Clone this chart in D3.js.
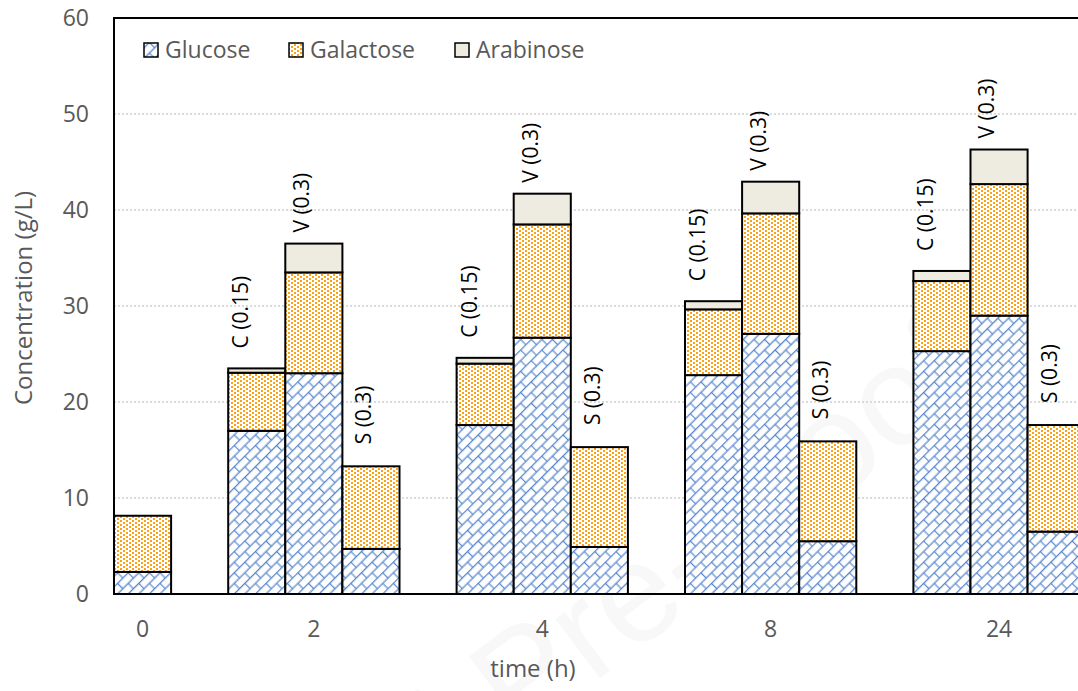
<!DOCTYPE html>
<html><head><meta charset="utf-8">
<script src="https://cdn.jsdelivr.net/npm/d3@7"></script>
<style>body{margin:0;background:#fff}</style></head>
<body><svg id="c" width="1078" height="691"></svg>
<script>
// ---- data ----
const timeLabels = ["0","2","4","8","24"];
const treatmentLabels = ["C (0.15)","V (0.3)","S (0.3)"];
const barTime = ["0","2","2","2","4","4","4","8","8","8","24","24","24"];
const barTreatment = [null,0,1,2,0,1,2,0,1,2,0,1,2];
const glucose   = [2.3,17.0,23.0,4.7,17.6,26.7,4.9,22.8,27.1,5.5,25.3,29.0,6.5];
const galactose = [5.85,6.05,10.5,8.6,6.4,11.8,10.4,6.85,12.55,10.4,7.3,13.7,11.1];
const arabinose = [0,0.45,3.0,0,0.6,3.2,0,0.85,3.3,0,1.05,3.6,0];
const yTicks = [0,10,20,30,40,50,60];
const seriesNames = ["Glucose","Galactose","Arabinose"];

// ---- layout ----
const svg = d3.select("#c");
const plotLeft = 114, plotTop = 18, plotBottom = 594, slotW = 57.1;
const grey = "#595959";
const font = "'Open Sans', sans-serif";

const slots = [];
timeLabels.forEach((t,i)=>{
  if(i===0){ slots.push(t+"|0"); }
  else { slots.push("gap"+i); [0,1,2].forEach(k=>slots.push(t+"|"+k)); }
});
const x = d3.scaleBand().domain(slots).range([plotLeft, plotLeft + slots.length*slotW]).padding(0);
const y = d3.scaleLinear().domain([0,60]).range([plotBottom, plotTop]);

// ---- patterns ----
const defs = svg.append("defs");
const pg = defs.append("pattern").attr("id","pGlu").attr("patternUnits","userSpaceOnUse")
  .attr("width",15).attr("height",15).attr("patternTransform","rotate(-45)");
pg.append("rect").attr("width",15).attr("height",15).attr("fill","#fff");
pg.append("path").attr("d","M0,0.6H15M0,8.1H15M0.6,0.6V8.1M8.1,8.1V15.6")
  .attr("stroke","#5585cc").attr("stroke-width",1.15).attr("fill","none");
const po = defs.append("pattern").attr("id","pGal").attr("patternUnits","userSpaceOnUse")
  .attr("width",6).attr("height",4);
po.append("rect").attr("width",6).attr("height",4).attr("fill","#fff");
po.append("rect").attr("x",0).attr("y",0).attr("width",2).attr("height",2).attr("fill","#ffa010");
po.append("rect").attr("x",3).attr("y",2).attr("width",2).attr("height",2).attr("fill","#ffa010");
const fills = ["url(#pGlu)","url(#pGal)","#eeece1"];

// ---- watermark (faint, behind) ----
svg.append("text").attr("transform","translate(120,1040) rotate(-37)")
  .attr("font-family","'Liberation Sans', sans-serif").attr("font-size",140)
  .attr("fill","#c8c8c8").attr("opacity",0.12).text("Journal Pre-proof");

// ---- gridlines ----
svg.append("g").selectAll("line").data(yTicks.filter(v=>v>0 && v<60)).join("line")
  .attr("x1",plotLeft).attr("x2",1078).attr("y1",d=>y(d)).attr("y2",d=>y(d))
  .attr("stroke","#d0d0d0").attr("stroke-width",1.5).attr("stroke-dasharray","2,2");

// ---- y axis ----
const yAxis = d3.axisLeft(y).tickValues(yTicks).tickSize(0).tickPadding(25);
const yg = svg.append("g").attr("transform",`translate(${plotLeft},0)`).call(yAxis);
yg.select(".domain").remove();
yg.selectAll("text").attr("fill",grey).attr("font-size",23).attr("font-family",font);

// ---- x axis ----
const tickSlot = t => t==="0" ? t+"|0" : t+"|1";
const xAxis = d3.axisBottom(x).tickValues(timeLabels.map(tickSlot))
  .tickFormat(s=>s.split("|")[0]).tickSize(0).tickPadding(27);
const xg = svg.append("g").attr("transform",`translate(0,${plotBottom})`).call(xAxis);
xg.select(".domain").remove();
xg.selectAll("text").attr("fill",grey).attr("font-size",23).attr("font-family",font);

// ---- bars ----
const bars = barTime.map((t,i)=>{
  const key = t+"|"+(barTreatment[i]===null?0:barTreatment[i]);
  const vals = [glucose[i],galactose[i],arabinose[i]];
  let acc = 0;
  const segs = vals.map((v,s)=>{ const y0=acc; acc+=v; return {s, y0, y1:acc, v}; }).filter(d=>d.v>0);
  return {key, segs, total:acc, tr:barTreatment[i]};
});
const bg = svg.append("g");
bars.forEach(b=>{
  bg.append("g").selectAll("rect").data(b.segs).join("rect")
    .attr("x",x(b.key)).attr("width",x.bandwidth())
    .attr("y",d=>y(d.y1)).attr("height",d=>y(d.y0)-y(d.y1))
    .attr("fill",d=>fills[d.s]).attr("stroke","#000").attr("stroke-width",2);
});

// ---- bar labels ----
const labelGap = [20,11,22];
const labelDx = [-16,-12,-7];
svg.append("g").selectAll("text").data(bars.filter(b=>b.tr!==null)).join("text")
  .attr("transform",b=>`translate(${x(b.key)+x.bandwidth()/2+labelDx[b.tr]},${y(b.total)-labelGap[b.tr]}) rotate(-90)`)
  .attr("dy","0.35em").attr("text-anchor","start")
  .attr("font-family",font).attr("font-size",21).attr("fill","#000")
  .text(b=>treatmentLabels[b.tr]);

// ---- frame ----
svg.append("path").attr("d",`M1078,${plotTop}H${plotLeft}V${plotBottom}H1078`)
  .attr("fill","none").attr("stroke","#000").attr("stroke-width",2);

// ---- axis titles ----
svg.append("text").attr("x",533).attr("y",677).attr("text-anchor","middle")
  .attr("font-family",font).attr("font-size",24).attr("fill",grey).text("time (h)");
svg.append("text").attr("transform","translate(32,298) rotate(-90)").attr("text-anchor","middle")
  .attr("font-family",font).attr("font-size",24).attr("fill",grey).text("Concentration (g/L)");

// ---- legend ----
const legX = [144,289,455];
const lg = svg.append("g");
seriesNames.forEach((n,i)=>{
  lg.append("rect").attr("x",legX[i]).attr("y",43).attr("width",14).attr("height",14)
    .attr("fill",fills[i]).attr("stroke","#000").attr("stroke-width",1.5);
  lg.append("text").attr("x",legX[i]+21).attr("y",58).attr("font-family",font)
    .attr("font-size",23).attr("fill",grey).text(n);
});
</script></body></html>
